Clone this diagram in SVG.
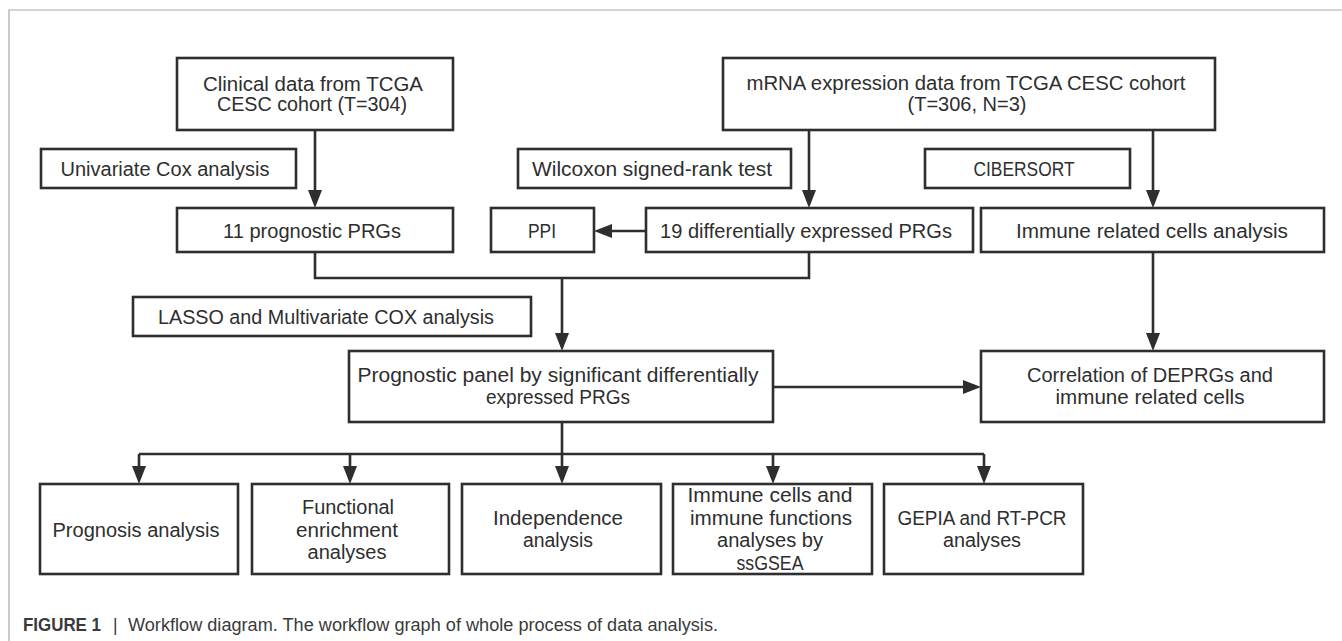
<svg xmlns="http://www.w3.org/2000/svg" width="1342" height="641" viewBox="0 0 1342 641">
<style>
.box{fill:#fff;stroke:#2e2e2e;stroke-width:2.6}
.t{font-family:"Liberation Sans",Arial,sans-serif;font-size:20px;fill:#2e2e2e;text-anchor:middle}
.c{fill:none;stroke:#2e2e2e;stroke-width:2.6}
.cap{font-family:"Liberation Sans",Arial,sans-serif;font-size:17.5px;fill:#3a3a3a}
</style>
<defs>
<marker id="ah" viewBox="0 0 18 14" markerWidth="18" markerHeight="14" refX="12" refY="7" orient="auto" markerUnits="userSpaceOnUse">
<path d="M0,0 L18,7 L0,14 Z" fill="#2e2e2e"/>
</marker>
</defs>
<rect width="1342" height="641" fill="#fff"/>
<path d="M9,641 V10 H1342" fill="none" stroke="#a8a8a8" stroke-width="1.2"/>

<g id="connectors">
<line class="c" x1="315" y1="130" x2="315" y2="202" marker-end="url(#ah)"/>
<line class="c" x1="809" y1="130" x2="809" y2="202" marker-end="url(#ah)"/>
<line class="c" x1="1153" y1="130" x2="1153" y2="202" marker-end="url(#ah)"/>
<line class="c" x1="646" y1="231" x2="600" y2="231" marker-end="url(#ah)"/>
<polyline class="c" points="315,252 315,278 809,278 809,252"/>
<line class="c" x1="562" y1="278" x2="562" y2="345" marker-end="url(#ah)"/>
<line class="c" x1="1153" y1="252" x2="1153" y2="345" marker-end="url(#ah)"/>
<line class="c" x1="773" y1="387" x2="975" y2="387" marker-end="url(#ah)"/>
<line class="c" x1="562" y1="422" x2="562" y2="454"/>
<line class="c" x1="139" y1="454" x2="984" y2="454"/>
<line class="c" x1="139" y1="454" x2="139" y2="478" marker-end="url(#ah)"/>
<line class="c" x1="350" y1="454" x2="350" y2="478" marker-end="url(#ah)"/>
<line class="c" x1="562" y1="454" x2="562" y2="478" marker-end="url(#ah)"/>
<line class="c" x1="773" y1="454" x2="773" y2="478" marker-end="url(#ah)"/>
<line class="c" x1="984" y1="454" x2="984" y2="478" marker-end="url(#ah)"/>
</g>

<g id="clinical">
<rect class="box" x="177" y="58" width="276" height="72"/>
<text class="t" x="313" y="91" textLength="220" lengthAdjust="spacingAndGlyphs">Clinical data from TCGA</text>
<text class="t" x="312" y="111" textLength="190" lengthAdjust="spacingAndGlyphs">CESC cohort (T=304)</text>
</g>
<g id="mrna">
<rect class="box" x="723" y="58" width="492" height="72"/>
<text class="t" x="966" y="90" textLength="439" lengthAdjust="spacingAndGlyphs">mRNA expression data from TCGA CESC cohort</text>
<text class="t" x="967" y="111" textLength="119" lengthAdjust="spacingAndGlyphs">(T=306, N=3)</text>
</g>
<g id="univariate">
<rect class="box" x="41" y="149" width="255" height="39"/>
<text class="t" x="165" y="176" textLength="209" lengthAdjust="spacingAndGlyphs">Univariate Cox analysis</text>
</g>
<g id="wilcoxon">
<rect class="box" x="518" y="149" width="273" height="39"/>
<text class="t" x="652" y="176" textLength="240" lengthAdjust="spacingAndGlyphs">Wilcoxon signed-rank test</text>
</g>
<g id="cibersort">
<rect class="box" x="925" y="149" width="205" height="39"/>
<text class="t" x="1024" y="176" textLength="101" lengthAdjust="spacingAndGlyphs">CIBERSORT</text>
</g>
<g id="prog11">
<rect class="box" x="177" y="208" width="276" height="44"/>
<text class="t" x="312" y="238" textLength="178" lengthAdjust="spacingAndGlyphs">11 prognostic PRGs</text>
</g>
<g id="ppi">
<rect class="box" x="491" y="208" width="103" height="44"/>
<text class="t" x="542" y="238" textLength="28" lengthAdjust="spacingAndGlyphs">PPI</text>
</g>
<g id="diff19">
<rect class="box" x="646" y="208" width="327" height="44"/>
<text class="t" x="806" y="238" textLength="292" lengthAdjust="spacingAndGlyphs">19 differentially expressed PRGs</text>
</g>
<g id="immune">
<rect class="box" x="981" y="208" width="343" height="44"/>
<text class="t" x="1152" y="238" textLength="272" lengthAdjust="spacingAndGlyphs">Immune related cells analysis</text>
</g>
<g id="lasso">
<rect class="box" x="133" y="297" width="398" height="39"/>
<text class="t" x="326" y="324" textLength="336" lengthAdjust="spacingAndGlyphs">LASSO and Multivariate COX analysis</text>
</g>
<g id="panel">
<rect class="box" x="349" y="351" width="424" height="71"/>
<text class="t" x="558" y="382" textLength="401" lengthAdjust="spacingAndGlyphs">Prognostic panel by significant differentially</text>
<text class="t" x="558" y="404" textLength="144" lengthAdjust="spacingAndGlyphs">expressed PRGs</text>
</g>
<g id="correlation">
<rect class="box" x="981" y="351" width="343" height="71"/>
<text class="t" x="1150" y="382" textLength="246" lengthAdjust="spacingAndGlyphs">Correlation of DEPRGs and</text>
<text class="t" x="1150" y="404" textLength="189" lengthAdjust="spacingAndGlyphs">immune related cells</text>
</g>
<g id="prognosis">
<rect class="box" x="40" y="484" width="198" height="90"/>
<text class="t" x="136" y="537" textLength="167" lengthAdjust="spacingAndGlyphs">Prognosis analysis</text>
</g>
<g id="functional">
<rect class="box" x="252" y="484" width="197" height="90"/>
<text class="t" x="348" y="514" textLength="92" lengthAdjust="spacingAndGlyphs">Functional</text>
<text class="t" x="347" y="537" textLength="102" lengthAdjust="spacingAndGlyphs">enrichment</text>
<text class="t" x="347" y="559" textLength="79" lengthAdjust="spacingAndGlyphs">analyses</text>
</g>
<g id="independence">
<rect class="box" x="462" y="484" width="199" height="90"/>
<text class="t" x="558" y="525" textLength="130" lengthAdjust="spacingAndGlyphs">Independence</text>
<text class="t" x="558" y="547" textLength="70" lengthAdjust="spacingAndGlyphs">analysis</text>
</g>
<g id="immunecells">
<rect class="box" x="673" y="484" width="199" height="90"/>
<text class="t" x="770" y="502" textLength="165" lengthAdjust="spacingAndGlyphs">Immune cells and</text>
<text class="t" x="771" y="525" textLength="162" lengthAdjust="spacingAndGlyphs">immune functions</text>
<text class="t" x="770" y="547" textLength="106" lengthAdjust="spacingAndGlyphs">analyses by</text>
<text class="t" x="770" y="570" textLength="67" lengthAdjust="spacingAndGlyphs">ssGSEA</text>
</g>
<g id="gepia">
<rect class="box" x="884" y="484" width="199" height="90"/>
<text class="t" x="982" y="525" textLength="169" lengthAdjust="spacingAndGlyphs">GEPIA and RT-PCR</text>
<text class="t" x="982" y="547" textLength="78" lengthAdjust="spacingAndGlyphs">analyses</text>
</g>

<g id="caption">
<text class="cap" x="23" y="631" font-weight="bold" fill="#2a2a2a" textLength="78" lengthAdjust="spacingAndGlyphs">FIGURE 1</text>
<text class="cap" x="113" y="631" fill="#888">|</text>
<text class="cap" x="128" y="631" textLength="590" lengthAdjust="spacingAndGlyphs">Workflow diagram. The workflow graph of whole process of data analysis.</text>
</g>
</svg>
